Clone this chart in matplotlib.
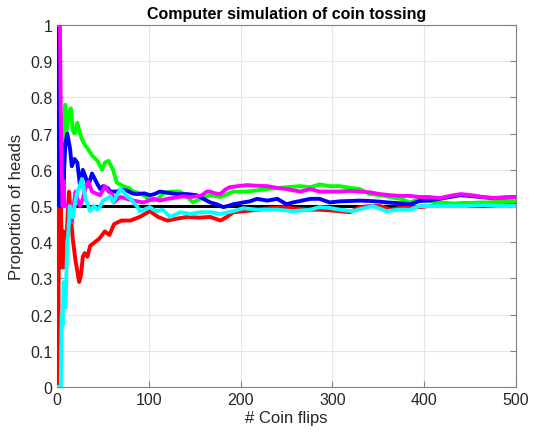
import matplotlib
matplotlib.use("Agg")
import matplotlib.pyplot as plt

plt.rcParams['font.family'] = ['Liberation Sans', 'DejaVu Sans']

# running proportion of heads (flip number, proportion)
red_x = [1, 2, 3, 4, 5, 6, 7, 8, 9, 10, 11, 12, 13, 14, 15, 16, 17, 18, 19, 20,
         22, 24, 26, 28, 30, 33, 36, 41, 46, 52, 57, 62, 70, 80, 90, 101, 110, 120,
         130, 142, 155, 167, 178, 185, 192, 205, 220, 235, 246, 260, 276, 286, 297,
         308, 319, 330, 341, 352, 363, 374, 385, 395, 405, 417, 430, 445, 460, 475, 490, 500]
red_y = [0, 0.5, 0.33, 0.5, 0.4, 0.33, 0.43, 0.375, 0.33, 0.4, 0.45, 0.5, 0.54, 0.5,
         0.47, 0.44, 0.41, 0.39, 0.37, 0.35, 0.32, 0.29, 0.31, 0.36, 0.37, 0.36, 0.39,
         0.40, 0.41, 0.43, 0.42, 0.45, 0.46, 0.46, 0.47, 0.486, 0.47, 0.46, 0.465, 0.47,
         0.468, 0.47, 0.46, 0.47, 0.483, 0.486, 0.49, 0.495, 0.497, 0.493, 0.49, 0.49,
         0.488, 0.486, 0.483, 0.497, 0.50, 0.50, 0.49, 0.495, 0.50, 0.497, 0.50, 0.505,
         0.505, 0.508, 0.505, 0.51, 0.51, 0.51]

green_x = [1, 2, 3, 4, 5, 6, 7, 8, 9, 10, 12, 15, 17, 19, 22, 25, 27, 30, 33, 38,
           44, 49, 52, 56, 61, 65, 72, 78, 83, 90, 94, 100, 105, 110, 116, 123, 134,
           142, 148, 156, 167, 178, 192, 207, 229, 250, 265, 276, 286, 297, 308, 320,
           330, 341, 352, 363, 374, 385, 395, 405, 417, 432, 447, 462, 475, 490, 500]
green_y = [1, 0.5, 0.67, 0.75, 0.6, 0.67, 0.71, 0.75, 0.78, 0.7, 0.75, 0.77, 0.71,
           0.70, 0.73, 0.70, 0.685, 0.67, 0.66, 0.64, 0.625, 0.60, 0.62, 0.625, 0.60,
           0.565, 0.555, 0.55, 0.54, 0.535, 0.53, 0.52, 0.515, 0.52, 0.535, 0.54, 0.54,
           0.525, 0.51, 0.52, 0.53, 0.525, 0.54, 0.54, 0.547, 0.552, 0.555, 0.552, 0.56,
           0.555, 0.555, 0.55, 0.547, 0.533, 0.53, 0.525, 0.52, 0.51, 0.52, 0.515, 0.51,
           0.507, 0.508, 0.51, 0.51, 0.512, 0.514]

blue_x = [1, 2, 3, 4, 5, 6, 7, 8, 9, 11, 14, 16, 19, 22, 25, 28, 31, 34, 38, 41, 44,
          47, 50, 55, 58, 62, 65, 70, 76, 82, 87, 95, 101, 106, 112, 120, 131, 142, 152,
          158, 163, 167, 174, 181, 186, 192, 203, 210, 218, 229, 240, 250, 257, 265,
          276, 286, 297, 308, 319, 330, 341, 352, 360, 372, 385, 395, 405, 417, 428,
          439, 450, 461, 475, 490, 500]
blue_y = [1, 0.5, 0.67, 0.5, 0.6, 0.67, 0.57, 0.62, 0.67, 0.70, 0.66, 0.61, 0.63, 0.62,
          0.555, 0.60, 0.58, 0.555, 0.59, 0.575, 0.56, 0.547, 0.555, 0.55, 0.54, 0.54,
          0.54, 0.545, 0.543, 0.535, 0.533, 0.535, 0.53, 0.533, 0.54, 0.537, 0.533,
          0.533, 0.53, 0.522, 0.515, 0.51, 0.505, 0.497, 0.50, 0.505, 0.51, 0.513, 0.52,
          0.515, 0.52, 0.505, 0.51, 0.514, 0.52, 0.52, 0.51, 0.513, 0.514, 0.515, 0.514,
          0.512, 0.51, 0.508, 0.505, 0.514, 0.515, 0.52, 0.525, 0.53, 0.528, 0.525,
          0.522, 0.524, 0.525]

magenta_x = [1, 2, 3, 4, 5, 6, 7, 8, 10, 12, 14, 16, 18, 20, 22, 25, 28, 31, 34, 38,
             42, 47, 52, 56, 60, 62, 66, 69, 76, 83, 94, 105, 112, 120, 128, 137, 145,
             152, 158, 163, 167, 172, 178, 183, 188, 197, 207, 218, 229, 240, 250, 265,
             276, 286, 297, 308, 319, 330, 341, 352, 363, 374, 385, 395, 405, 417, 428,
             440, 452, 464, 477, 490, 500]
magenta_y = [1, 1, 1, 0.75, 0.6, 0.5, 0.57, 0.5, 0.5, 0.5, 0.46, 0.455, 0.5, 0.54, 0.52,
             0.50, 0.52, 0.55, 0.567, 0.54, 0.535, 0.53, 0.555, 0.54, 0.533, 0.51, 0.52,
             0.525, 0.52, 0.515, 0.51, 0.52, 0.515, 0.52, 0.523, 0.527, 0.525, 0.527,
             0.53, 0.54, 0.54, 0.535, 0.533, 0.545, 0.552, 0.555, 0.558, 0.556, 0.555,
             0.55, 0.547, 0.54, 0.547, 0.54, 0.54, 0.54, 0.542, 0.54, 0.538, 0.533, 0.53,
             0.528, 0.528, 0.525, 0.525, 0.522, 0.528, 0.533, 0.53, 0.525, 0.522, 0.523,
             0.525]

cyan_x = [1, 2, 3, 4, 5, 6, 7, 8, 9, 10, 11, 12, 13, 14, 15, 17, 19, 22, 24, 27, 29,
          31, 34, 36, 40, 44, 47, 50, 54, 58, 61, 65, 69, 72, 76, 80, 83, 87, 90, 95,
          101, 105, 109, 115, 123, 128, 134, 145, 156, 167, 178, 192, 203, 218, 240,
          257, 276, 286, 297, 308, 322, 333, 344, 359, 372, 385, 395, 410, 428, 445,
          464, 480, 500]
cyan_y = [0, 0, 0, 0, 0.2, 0.17, 0.29, 0.25, 0.22, 0.3, 0.4, 0.42, 0.46, 0.5, 0.47,
          0.47, 0.5, 0.54, 0.55, 0.575, 0.55, 0.52, 0.50, 0.486, 0.50, 0.49, 0.50, 0.515,
          0.52, 0.527, 0.51, 0.53, 0.547, 0.54, 0.527, 0.52, 0.51, 0.50, 0.486, 0.49,
          0.497, 0.49, 0.486, 0.49, 0.47, 0.475, 0.483, 0.478, 0.483, 0.483, 0.478,
          0.486, 0.494, 0.49, 0.49, 0.486, 0.49, 0.497, 0.495, 0.49, 0.486, 0.493, 0.50,
          0.486, 0.49, 0.49, 0.50, 0.50, 0.50, 0.50, 0.502, 0.50, 0.50]

fair_p = 0.5
n_flips = 500

fig = plt.figure(figsize=(5.34, 4.35), dpi=100)
ax = fig.add_axes([0.107, 0.108, 0.859, 0.832])

ax.plot([0, n_flips], [fair_p, fair_p], color='black', lw=2.2, zorder=2)
ax.plot(red_x, red_y, color='#ff0000', lw=2.8, zorder=3)
ax.plot(green_x, green_y, color='#00ff00', lw=2.8, zorder=3)
ax.plot(blue_x, blue_y, color='#0000ff', lw=2.8, zorder=3)
ax.plot(magenta_x, magenta_y, color='#ff00ff', lw=2.8, zorder=3)
ax.plot(cyan_x, cyan_y, color='#00ffff', lw=2.8, zorder=3)

ax.set_xlim(0, n_flips)
ax.set_ylim(0, 1)
ax.set_xticks(range(0, 501, 100))
ax.set_yticks([i / 10 for i in range(11)])
ax.set_yticklabels(['0', '0.1', '0.2', '0.3', '0.4', '0.5', '0.6', '0.7', '0.8', '0.9', '1'])

ax.grid(True, color='#e6e6e6', lw=0.8, zorder=0)
ax.set_axisbelow(True)
for s in ax.spines.values():
    s.set_color('#808080')
    s.set_linewidth(0.8)
ax.tick_params(direction='in', length=4, color='#808080', labelsize=11.5,
               labelcolor='#262626', top=False, right=True)

ax.set_xlabel('# Coin flips', fontsize=12, color='#262626', labelpad=2)
ax.set_ylabel('Proportion of heads', fontsize=12, color='#262626', labelpad=4)
ax.set_title('Computer simulation of coin tossing', fontsize=11.5, fontweight='bold', pad=5)

fig.savefig('out.png', dpi=100)
